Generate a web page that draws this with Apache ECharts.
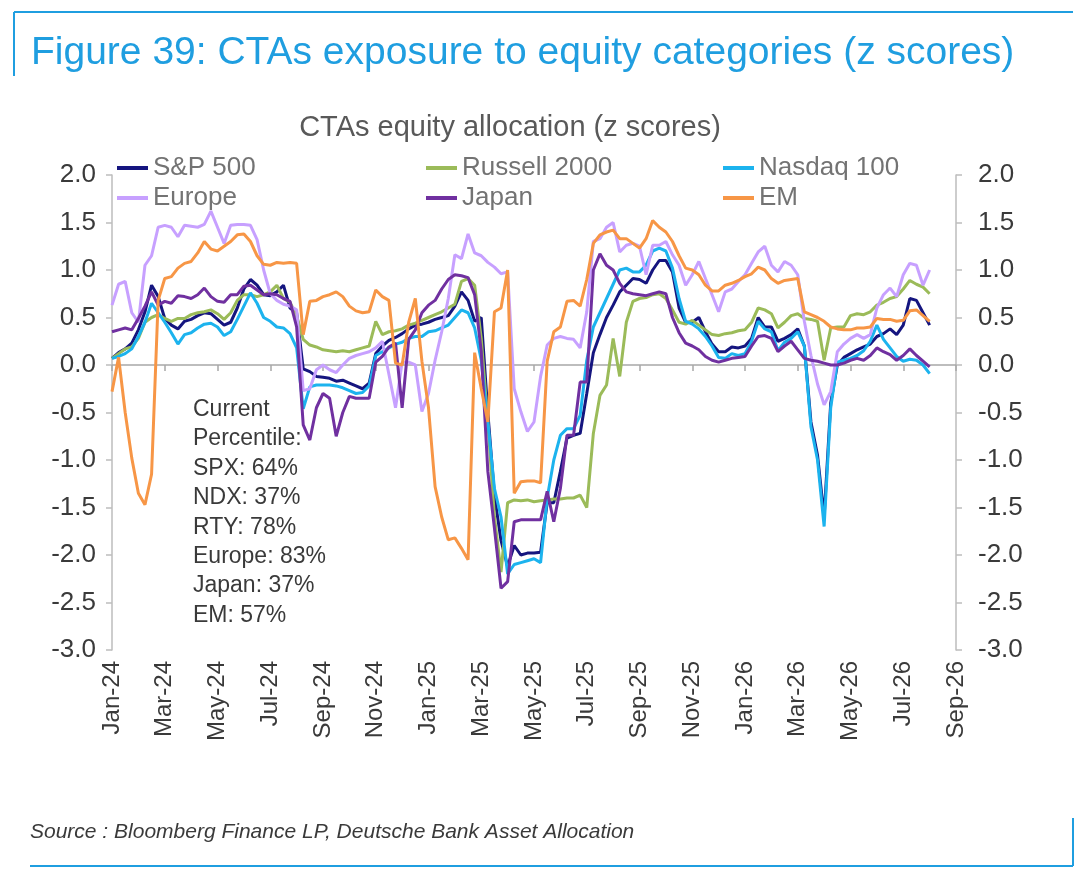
<!DOCTYPE html>
<html>
<head>
<meta charset="utf-8">
<script src="https://cdn.jsdelivr.net/npm/echarts@6/dist/echarts.min.js"></script>
<style>
  html, body { margin: 0; padding: 0; background: #fff; }
  #chart { width: 1080px; height: 877px; }
</style>
</head>
<body>
<div id="chart"></div>
<script>
// x axis: months since Jan-24, one tick label every 2 months
var TICK_LABELS = ['Jan-24', 'Mar-24', 'May-24', 'Jul-24', 'Sep-24', 'Nov-24',
  'Jan-25', 'Mar-25', 'May-25', 'Jul-25', 'Sep-25', 'Nov-25',
  'Jan-26', 'Mar-26', 'May-26', 'Jul-26', 'Sep-26'];
// readings taken every quarter month (one row = one month)
var STEP = 0.25;

var spx = [
  0.07, 0.13, 0.17, 0.23,
  0.37, 0.56, 0.84, 0.72,
  0.49, 0.42, 0.38, 0.46,
  0.48, 0.52, 0.55, 0.54,
  0.48, 0.42, 0.45, 0.60,
  0.80, 0.90, 0.84, 0.74,
  0.73, 0.77, 0.84, 0.60,
  0.55, -0.04, -0.07, -0.12,
  -0.13, -0.14, -0.17, -0.16,
  -0.19, -0.22, -0.25, -0.19,
  0.12, 0.20, 0.26, 0.29,
  0.33, 0.38, 0.42, 0.43,
  0.45, 0.48, 0.50, 0.52,
  0.62, 0.77, 0.68, 0.46,
  0.50, -0.50, -1.37, -1.85,
  -2.12, -1.90, -2.00, -1.98,
  -1.98, -1.97, -1.45, -1.45,
  -1.12, -0.77, -0.74, -0.72,
  -0.30, 0.13, 0.32, 0.50,
  0.63, 0.77, 0.84, 0.91,
  0.90, 0.86, 1.00, 1.10,
  1.10, 0.98, 0.60, 0.45,
  0.45, 0.50, 0.35, 0.22,
  0.14, 0.14, 0.19, 0.18,
  0.20, 0.28, 0.50, 0.40,
  0.40, 0.25, 0.28, 0.32,
  0.38, 0.20, -0.60, -0.95,
  -1.60, -0.40, 0.00, 0.08,
  0.12, 0.16, 0.19, 0.22,
  0.30, 0.33, 0.38, 0.32,
  0.42, 0.70, 0.68, 0.55,
  0.42
];

var rty = [
  0.07, 0.12, 0.17, 0.19,
  0.28, 0.45, 0.50, 0.53,
  0.49, 0.46, 0.49, 0.49,
  0.53, 0.55, 0.56, 0.58,
  0.54, 0.48, 0.55, 0.68,
  0.74, 0.74, 0.72, 0.74,
  0.77, 0.84, 0.70, 0.66,
  0.52, 0.27, 0.21, 0.19,
  0.16, 0.15, 0.14, 0.15,
  0.14, 0.16, 0.18, 0.20,
  0.46, 0.32, 0.35, 0.36,
  0.38, 0.42, 0.44, 0.47,
  0.50, 0.53, 0.56, 0.60,
  0.64, 0.88, 0.91, 0.84,
  0.28, -0.60, -1.60, -2.18,
  -1.45, -1.42, -1.43, -1.42,
  -1.44, -1.43, -1.42, -1.41,
  -1.41, -1.40, -1.40, -1.37,
  -1.50, -0.72, -0.32, -0.21,
  0.28, -0.12, 0.45, 0.67,
  0.70, 0.71, 0.74, 0.75,
  0.70, 0.58, 0.45, 0.43,
  0.47, 0.42, 0.37, 0.32,
  0.31, 0.33, 0.34, 0.36,
  0.37, 0.45, 0.60, 0.58,
  0.54, 0.39, 0.45, 0.52,
  0.54, 0.49, 0.48, 0.46,
  0.05, 0.39, 0.40, 0.40,
  0.52, 0.54, 0.53, 0.56,
  0.63, 0.66, 0.70, 0.72,
  0.80, 0.89, 0.85, 0.82,
  0.75
];

var ndx = [
  0.07, 0.09, 0.12, 0.17,
  0.30, 0.45, 0.65, 0.55,
  0.45, 0.34, 0.22, 0.32,
  0.34, 0.39, 0.43, 0.44,
  0.40, 0.31, 0.35, 0.48,
  0.62, 0.76, 0.65, 0.50,
  0.46, 0.40, 0.39, 0.33,
  0.18, -0.46, -0.23, -0.21,
  -0.21, -0.21, -0.22, -0.24,
  -0.27, -0.30, -0.29, -0.22,
  0.10, 0.14, 0.18, 0.22,
  0.24, 0.28, 0.30, 0.30,
  0.35, 0.36, 0.39, 0.42,
  0.50, 0.58, 0.55, 0.39,
  0.05, -0.60, -1.30, -1.60,
  -2.20, -2.10, -2.08, -2.06,
  -2.04, -2.08, -1.40, -1.00,
  -0.74, -0.67, -0.67, -0.53,
  0.05, 0.40, 0.55, 0.70,
  0.85, 1.00, 1.02, 0.98,
  0.98, 1.05, 1.20, 1.23,
  1.20, 1.02, 0.70, 0.46,
  0.43, 0.38, 0.30, 0.20,
  0.08, 0.07, 0.12, 0.10,
  0.12, 0.25, 0.46, 0.38,
  0.35, 0.15, 0.24, 0.28,
  0.35, 0.20, -0.65, -1.00,
  -1.70, -0.45, 0.03, 0.05,
  0.07, 0.10, 0.15, 0.25,
  0.42, 0.27, 0.18, 0.09,
  0.04, 0.06, 0.05, 0.00,
  -0.09
];

var europe = [
  0.63, 0.85, 0.88, 0.55,
  0.45, 1.05, 1.15, 1.45,
  1.47, 1.45, 1.35, 1.47,
  1.46, 1.45, 1.48, 1.62,
  1.45, 1.28, 1.47, 1.48,
  1.48, 1.47, 1.32, 1.00,
  0.75, 0.68, 0.64, 0.62,
  0.58, -0.27, -0.25, -0.05,
  0.00, -0.05, -0.08, 0.00,
  0.07, 0.10, 0.12, 0.14,
  0.18, 0.25, -0.10, -0.45,
  0.03, 0.03, 0.00, -0.49,
  -0.30, 0.05, 0.35, 0.70,
  1.16, 1.12, 1.38, 1.18,
  1.15, 1.08, 1.03, 0.96,
  0.98, -0.25, -0.49, -0.70,
  -0.60, -0.12, 0.21, 0.28,
  0.30, 0.28, 0.27, 0.18,
  0.56, 1.30, 1.33, 1.45,
  1.50, 1.19, 1.26, 1.28,
  1.25, 0.95, 1.26, 1.26,
  1.30, 1.16, 1.05, 0.84,
  0.95, 1.09, 0.91, 0.74,
  0.56, 0.77, 0.80, 0.88,
  0.95, 1.07, 1.19, 1.25,
  1.05, 0.98, 1.09, 1.05,
  0.95, 0.46, 0.10, -0.20,
  -0.42, -0.28, 0.14, 0.22,
  0.28, 0.32, 0.28, 0.32,
  0.60, 0.74, 0.81, 0.72,
  0.95, 1.07, 1.05, 0.84,
  1.00
];

var japan = [
  0.35, 0.37, 0.39, 0.37,
  0.49, 0.62, 0.77, 0.63,
  0.67, 0.65, 0.73, 0.72,
  0.70, 0.74, 0.81, 0.72,
  0.67, 0.66, 0.74, 0.74,
  0.83, 0.84, 0.79, 0.74,
  0.75, 0.74, 0.70, 0.67,
  0.40, -0.63, -0.79, -0.45,
  -0.30, -0.35, -0.75, -0.50,
  -0.33, -0.35, -0.35, -0.35,
  0.03, 0.09, 0.19, 0.23,
  -0.45, 0.27, 0.37, 0.55,
  0.63, 0.68, 0.80, 0.90,
  0.95, 0.94, 0.92, 0.74,
  0.14, -1.12, -1.72, -2.35,
  -2.28, -1.65, -1.63, -1.63,
  -1.63, -1.63, -1.33, -1.65,
  -1.30, -0.74, -0.74, -0.18,
  -0.18, 1.00, 1.17, 1.05,
  1.00, 0.86, 0.77, 0.75,
  0.74, 0.73, 0.75, 0.77,
  0.75, 0.50, 0.34, 0.23,
  0.20, 0.16, 0.09, 0.05,
  0.03, 0.05, 0.07, 0.08,
  0.09, 0.20, 0.30, 0.31,
  0.28, 0.14, 0.20, 0.25,
  0.16, 0.07, 0.05, 0.04,
  0.02, 0.00, 0.00, 0.02,
  0.05, 0.07, 0.05, 0.10,
  0.18, 0.14, 0.11, 0.05,
  0.10, 0.17, 0.10, 0.04,
  -0.02
];

var em = [
  -0.28, 0.08, -0.50, -0.98,
  -1.35, -1.47, -1.15, 0.68,
  0.91, 0.93, 1.02, 1.07,
  1.09, 1.18, 1.30, 1.22,
  1.20, 1.25, 1.30, 1.37,
  1.38, 1.30, 1.15, 1.06,
  1.05, 1.08, 1.07, 1.08,
  1.07, 0.32, 0.67, 0.68,
  0.72, 0.74, 0.77, 0.72,
  0.62, 0.57, 0.55, 0.56,
  0.79, 0.72, 0.68, 0.02,
  0.00, 0.45, 0.70, 0.04,
  -0.45, -1.28, -1.60, -1.84,
  -1.82, -1.93, -2.05, 0.13,
  -0.25, -0.60, 0.56, 0.60,
  1.00, -1.35, -1.23, -1.22,
  -1.22, -1.24, 0.04, 0.35,
  0.40, 0.67, 0.68, 0.62,
  0.90, 1.28, 1.37, 1.40,
  1.42, 1.33, 1.33, 1.28,
  1.23, 1.33, 1.52, 1.45,
  1.40, 1.30, 1.15, 1.02,
  1.00, 0.95, 0.84, 0.78,
  0.78, 0.84, 0.86, 0.89,
  0.93, 0.96, 1.03, 1.00,
  0.91, 0.86, 0.89, 0.90,
  0.91, 0.56, 0.53, 0.50,
  0.46, 0.40, 0.38, 0.37,
  0.37, 0.39, 0.39, 0.40,
  0.49, 0.48, 0.48, 0.46,
  0.47, 0.57, 0.58, 0.52,
  0.46
];

var PERCENTILES = ['Current', 'Percentile:', 'SPX: 64%', 'NDX: 37%', 'RTY: 78%',
  'Europe: 83%', 'Japan: 37%', 'EM: 57%'];

var FONT = '"Liberation Sans", Arial, Helvetica, sans-serif';
var BLUE = '#1f9ee0';

function pairs(vals) {
  return vals.map(function(v, i) { return [i * STEP, v]; });
}

var chart = echarts.init(document.getElementById('chart'));

var seriesDefs = [
  { name: 'S&P 500', data: spx, color: '#15157f' },
  { name: 'Russell 2000', data: rty, color: '#9bbb59' },
  { name: 'Nasdaq 100', data: ndx, color: '#1cb3ee' },
  { name: 'Europe', data: europe, color: '#c7a0ff' },
  { name: 'Japan', data: japan, color: '#7030a0' },
  { name: 'EM', data: em, color: '#f79646' }
];

var legendBase = {
  orient: 'vertical',
  top: 155,
  padding: 0,
  icon: 'rect',
  itemWidth: 31,
  itemHeight: 4,
  itemGap: 4,
  selectedMode: false,
  textStyle: { fontFamily: FONT, fontSize: 26, color: '#737373', lineHeight: 26 }
};

function yAxisDef(pos, margin) {
  return {
    type: 'value',
    position: pos,
    min: -3,
    max: 2,
    interval: 0.5,
    axisLine: { show: true, onZero: false, lineStyle: { color: '#bdbdbd', width: 1.5 } },
    axisTick: { show: true, length: 6, lineStyle: { color: '#bdbdbd', width: 1.5 } },
    splitLine: { show: false },
    axisLabel: {
      margin: margin,
      fontFamily: FONT,
      fontSize: 26,
      color: '#3a3a3a',
      formatter: function(v) { return v.toFixed(1); }
    }
  };
}

var option = {
  animation: false,
  backgroundColor: '#ffffff',
  color: seriesDefs.map(function(s) { return s.color; }),
  legend: [
    Object.assign({}, legendBase, { left: 117, data: ['S&P 500', 'Europe'] }),
    Object.assign({}, legendBase, { left: 426, data: ['Russell 2000', 'Japan'] }),
    Object.assign({}, legendBase, { left: 723, data: ['Nasdaq 100', 'EM'] })
  ],
  grid: { left: 112, right: 124, top: 175, bottom: 227 },
  xAxis: [{
    type: 'value',
    min: 0,
    max: 32,
    interval: 2,
    position: 'bottom',
    axisLine: { show: false, onZero: false },
    axisTick: { show: false },
    splitLine: { show: false },
    axisLabel: {
      rotate: 90,
      margin: 11,
      fontFamily: FONT,
      fontSize: 24,
      color: '#3a3a3a',
      showMinLabel: true,
      showMaxLabel: true,
      formatter: function(v) { return TICK_LABELS[Math.round(v / 2)]; }
    }
  }, {
    type: 'value',
    min: 0,
    max: 32,
    interval: 2,
    position: 'bottom',
    axisLine: { show: true, onZero: true, lineStyle: { color: '#a8a8a8', width: 1.5 } },
    axisTick: { show: true, length: 6, lineStyle: { color: '#a8a8a8', width: 1.5 } },
    axisLabel: { show: false },
    splitLine: { show: false }
  }],
  yAxis: [yAxisDef('left', 16), yAxisDef('right', 22)],
  series: seriesDefs.map(function(s) {
    return {
      name: s.name,
      type: 'line',
      xAxisIndex: 0,
      yAxisIndex: 0,
      data: pairs(s.data),
      showSymbol: false,
      symbol: 'none',
      lineStyle: { width: 3, color: s.color },
      itemStyle: { color: s.color }
    };
  }),
  graphic: [
    { type: 'line', shape: { x1: 14, y1: 12, x2: 1073, y2: 12 }, style: { stroke: BLUE, lineWidth: 2 } },
    { type: 'line', shape: { x1: 14, y1: 12, x2: 14, y2: 76 }, style: { stroke: BLUE, lineWidth: 2 } },
    { type: 'line', shape: { x1: 30, y1: 866, x2: 1073, y2: 866 }, style: { stroke: BLUE, lineWidth: 2 } },
    { type: 'line', shape: { x1: 1073, y1: 818, x2: 1073, y2: 866 }, style: { stroke: BLUE, lineWidth: 2 } },
    {
      type: 'text', x: 31, y: 53,
      style: { text: 'Figure 39: CTAs exposure to equity categories (z scores)', fill: BLUE,
        fontFamily: FONT, fontSize: 39, verticalAlign: 'middle', align: 'left' }
    },
    {
      type: 'text', x: 510, y: 128,
      style: { text: 'CTAs equity allocation (z scores)', fill: '#595959',
        fontFamily: FONT, fontSize: 29, verticalAlign: 'middle', align: 'center' }
    },
    {
      type: 'text', x: 193, y: 395, z: 10,
      style: { text: PERCENTILES.join('\n'), fill: '#3a3a3a',
        fontFamily: FONT, fontSize: 23, lineHeight: 29.4, verticalAlign: 'top', align: 'left' }
    },
    {
      type: 'text', x: 30, y: 832,
      style: { text: 'Source : Bloomberg Finance LP, Deutsche Bank Asset Allocation', fill: '#3a3a3a',
        fontFamily: FONT, fontSize: 21, fontStyle: 'italic', verticalAlign: 'middle', align: 'left' }
    }
  ]
};

chart.setOption(option);
window.addEventListener('resize', function() { chart.resize(); });
</script>
</body>
</html>
